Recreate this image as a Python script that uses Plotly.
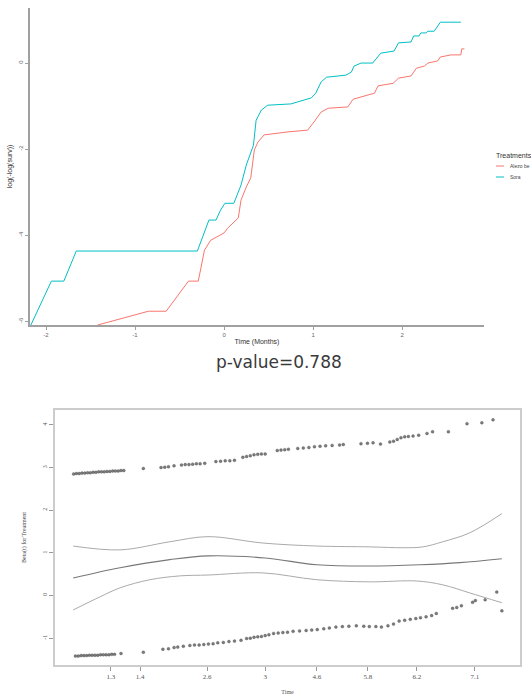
import plotly.graph_objects as go

# ---------------- Top panel: log(-log(surv)) vs log time ----------------
sora_t = [-2.17, -1.94, -1.80, -1.66, -0.30, -0.17, -0.09, -0.04, 0.01, 0.11,
          0.19, 0.25, 0.33, 0.36, 0.42, 0.49, 0.75, 0.87, 0.98, 1.03,
          1.09, 1.15, 1.37, 1.43, 1.46, 1.54, 1.67, 1.76, 1.91, 1.96,
          2.10, 2.13, 2.19, 2.21, 2.27, 2.29, 2.36, 2.43, 2.66]
sora_v = [-6.09, -5.07, -5.07, -4.37, -4.37, -3.65, -3.65, -3.42, -3.26, -3.26,
          -2.84, -2.37, -1.91, -1.33, -1.09, -0.98, -0.95, -0.88, -0.81, -0.70,
          -0.44, -0.33, -0.28, -0.21, -0.07, 0.00, 0.00, 0.23, 0.28, 0.47,
          0.49, 0.63, 0.63, 0.70, 0.70, 0.74, 0.74, 0.95, 0.95]

alezo_t = [-1.42, -0.85, -0.65, -0.48, -0.40, -0.29, -0.22, -0.15, 0.00, 0.04,
           0.16, 0.19, 0.25, 0.30, 0.34, 0.38, 0.45, 0.72, 0.94, 1.01,
           1.09, 1.17, 1.39, 1.45, 1.54, 1.69, 1.73, 1.90, 1.96, 2.10,
           2.16, 2.25, 2.29, 2.40, 2.43, 2.55, 2.66, 2.67, 2.70]
alezo_v = [-6.09, -5.77, -5.77, -5.28, -5.07, -5.07, -4.35, -4.12, -3.95, -3.84,
           -3.60, -3.19, -2.88, -2.67, -2.02, -1.84, -1.67, -1.60, -1.56, -1.37,
           -1.14, -1.05, -1.02, -0.84, -0.79, -0.70, -0.53, -0.47, -0.35, -0.30,
           -0.12, -0.07, 0.00, 0.05, 0.14, 0.19, 0.19, 0.33, 0.33]

top_xticks = [-2, -1, 0, 1, 2]
top_yticks = [0, -2, -4, -6]
legend_names = ["Alezo be", "Sora"]

# ---------------- Bottom panel: Schoenfeld residuals ----------------
bot_tickpos = [0.120, 0.183, 0.327, 0.452, 0.563, 0.673, 0.778, 0.903]
bot_ticklab = ["1.3", "1.4", "2.6", "3", "4.6", "5.8", "6.2", "7.1"]
bot_yticks = [4, 3, 2, 1, 0, -1]

res_hi_x = [0.040, 0.046, 0.052, 0.058, 0.064, 0.070, 0.076, 0.082, 0.088, 0.094,
            0.100, 0.106, 0.112, 0.118, 0.124, 0.130, 0.136, 0.142, 0.148, 0.190,
            0.228, 0.236, 0.244, 0.256, 0.272, 0.280, 0.288, 0.296, 0.304, 0.312,
            0.322, 0.346, 0.356, 0.366, 0.376, 0.386, 0.404, 0.412, 0.420, 0.428,
            0.436, 0.444, 0.452, 0.478, 0.486, 0.494, 0.502, 0.522, 0.534, 0.546,
            0.558, 0.570, 0.582, 0.596, 0.612, 0.620, 0.658, 0.672, 0.684, 0.700,
            0.720, 0.728, 0.736, 0.744, 0.752, 0.760, 0.770, 0.782, 0.800, 0.812,
            0.846, 0.886, 0.918, 0.942]
res_hi_y = [2.85, 2.86, 2.86, 2.87, 2.87, 2.88, 2.88, 2.89, 2.89, 2.90,
            2.90, 2.90, 2.91, 2.91, 2.92, 2.92, 2.92, 2.93, 2.93, 2.98,
            3.00, 3.01, 3.02, 3.04, 3.06, 3.07, 3.07, 3.08, 3.09, 3.09,
            3.10, 3.14, 3.15, 3.16, 3.16, 3.17, 3.24, 3.26, 3.28, 3.30,
            3.31, 3.32, 3.32, 3.40, 3.41, 3.42, 3.43, 3.45, 3.46, 3.47,
            3.49, 3.50, 3.51, 3.52, 3.53, 3.54, 3.56, 3.57, 3.58, 3.55,
            3.60, 3.62, 3.66, 3.70, 3.72, 3.73, 3.74, 3.76, 3.80, 3.84,
            3.84, 4.03, 4.05, 4.12]

res_lo_x = [0.044, 0.050, 0.056, 0.062, 0.068, 0.074, 0.080, 0.086, 0.092, 0.098,
            0.104, 0.110, 0.116, 0.122, 0.128, 0.142, 0.190, 0.232, 0.244, 0.256,
            0.264, 0.276, 0.290, 0.300, 0.310, 0.320, 0.330, 0.340, 0.350, 0.362,
            0.374, 0.386, 0.400, 0.412, 0.420, 0.428, 0.436, 0.444, 0.452, 0.460,
            0.470, 0.480, 0.490, 0.500, 0.512, 0.526, 0.540, 0.552, 0.564, 0.578,
            0.590, 0.604, 0.618, 0.632, 0.648, 0.664, 0.676, 0.690, 0.702, 0.716,
            0.728, 0.740, 0.752, 0.764, 0.776, 0.786, 0.798, 0.810, 0.820, 0.855,
            0.864, 0.874, 0.898, 0.904, 0.925, 0.950, 0.961]
res_lo_y = [-1.42, -1.42, -1.41, -1.41, -1.41, -1.40, -1.40, -1.40, -1.40, -1.39,
            -1.39, -1.39, -1.39, -1.38, -1.38, -1.36, -1.33, -1.26, -1.25, -1.22,
            -1.21, -1.19, -1.17, -1.16, -1.16, -1.15, -1.14, -1.13, -1.11, -1.10,
            -1.08, -1.07, -1.05, -1.01, -1.00, -0.98, -0.97, -0.96, -0.94, -0.92,
            -0.89, -0.88, -0.87, -0.86, -0.84, -0.83, -0.82, -0.81, -0.80, -0.78,
            -0.76, -0.74, -0.73, -0.72, -0.71, -0.72, -0.73, -0.73, -0.74, -0.71,
            -0.67, -0.60, -0.58, -0.56, -0.54, -0.52, -0.50, -0.47, -0.42, -0.30,
            -0.28, -0.24, -0.16, -0.12, -0.10, 0.08, -0.36]

fit_x = [0.039, 0.140, 0.247, 0.329, 0.452, 0.563, 0.677, 0.785, 0.871, 0.961]
fit_y = [0.41, 0.65, 0.84, 0.93, 0.88, 0.72, 0.69, 0.72, 0.77, 0.86]

up_x = [0.039, 0.140, 0.247, 0.329, 0.447, 0.563, 0.677, 0.748, 0.791, 0.834, 0.892, 0.961]
up_y = [1.16, 1.07, 1.26, 1.38, 1.23, 1.16, 1.14, 1.12, 1.14, 1.26, 1.47, 1.92]

lo_x = [0.039, 0.097, 0.140, 0.204, 0.269, 0.329, 0.447, 0.563, 0.677, 0.778, 0.834, 0.892, 0.961]
lo_y = [-0.34, -0.03, 0.18, 0.37, 0.46, 0.48, 0.53, 0.37, 0.32, 0.34, 0.25, 0.06, -0.17]

RED = "#F8766D"
CYAN = "#00BFC4"
FONT = "Liberation Sans"
SERIF = "Liberation Serif"

fig = go.Figure()

fig.add_trace(go.Scatter(x=alezo_t, y=alezo_v, mode="lines", name=legend_names[0],
                         line=dict(color=RED, width=1.0), xaxis="x", yaxis="y"))
fig.add_trace(go.Scatter(x=sora_t, y=sora_v, mode="lines", name=legend_names[1],
                         line=dict(color=CYAN, width=1.0), xaxis="x", yaxis="y"))

mk = dict(symbol="circle", size=3.0, color="rgba(80,80,80,0.75)",
          line=dict(width=0.5, color="rgba(50,50,50,0.5)"))
fig.add_trace(go.Scatter(x=res_hi_x, y=res_hi_y, mode="markers", marker=mk,
                         xaxis="x2", yaxis="y2"))
fig.add_trace(go.Scatter(x=res_lo_x, y=res_lo_y, mode="markers", marker=mk,
                         xaxis="x2", yaxis="y2"))
fig.add_trace(go.Scatter(x=fit_x, y=fit_y, mode="lines",
                         line=dict(color="#777", width=1.1, shape="spline"),
                         xaxis="x2", yaxis="y2"))
fig.add_trace(go.Scatter(x=up_x, y=up_y, mode="lines",
                         line=dict(color="#aaa", width=1.0, shape="spline"),
                         xaxis="x2", yaxis="y2"))
fig.add_trace(go.Scatter(x=lo_x, y=lo_y, mode="lines",
                         line=dict(color="#aaa", width=1.0, shape="spline"),
                         xaxis="x2", yaxis="y2"))

W, H = 531, 698

# manual compact legend (ggplot style)
shapes = []
annotations = [
    dict(text="Treatments", x=494 / W, y=1 - 155 / H, xref="paper", yref="paper",
         xanchor="left", yanchor="middle", showarrow=False,
         font=dict(size=7, color="#333", family=FONT)),
]
for i, (nm, col) in enumerate(zip(legend_names, [RED, CYAN])):
    yy = 1 - (166 + 11 * i) / H
    shapes.append(dict(type="line", xref="paper", yref="paper",
                       x0=496 / W, x1=504 / W, y0=yy, y1=yy,
                       line=dict(color=col, width=1)))
    annotations.append(dict(text=nm, x=508 / W, y=yy, xref="paper", yref="paper",
                            xanchor="left", yanchor="middle", showarrow=False,
                            font=dict(size=5, color="#444", family=FONT)))

annotations.append(dict(text="p-value=0.788", x=279 / W, y=1 - 362 / H,
                        xref="paper", yref="paper", showarrow=False,
                        font=dict(size=17, color="#3a3a3a", family="DejaVu Sans")))

fig.update_layout(
    width=W, height=H,
    margin=dict(l=0, r=0, t=0, b=0),
    paper_bgcolor="white", plot_bgcolor="white",
    font=dict(family=FONT, color="#444"),
    showlegend=False,
    shapes=shapes,
    annotations=annotations,
    xaxis=dict(domain=[30 / W, 484 / W], range=[-2.18, 2.92],
               tickvals=top_xticks, ticktext=[str(v) for v in top_xticks],
               showgrid=False, zeroline=False, showline=True, linecolor="#a0a0a0",
               linewidth=2, ticks="outside", ticklen=3, tickcolor="#a0a0a0",
               tickfont=dict(size=6, color="#666"),
               title=dict(text="Time (Months)", font=dict(size=7, color="#333"), standoff=2),
               anchor="y"),
    yaxis=dict(domain=[1 - 325 / H, 1 - 8 / H], range=[-6.09, 1.28],
               tickvals=top_yticks, ticktext=[str(v) for v in top_yticks],
               showgrid=False, zeroline=False, showline=True, linecolor="#a0a0a0",
               linewidth=2, ticks="outside", ticklen=3, tickcolor="#a0a0a0",
               tickangle=-90, tickfont=dict(size=6, color="#666"),
               title=dict(text="log(-log(surv))", font=dict(size=7, color="#333"), standoff=4),
               anchor="x"),
    xaxis2=dict(domain=[55 / W, 520 / W], range=[0, 1],
                tickvals=bot_tickpos, ticktext=bot_ticklab,
                showgrid=False, zeroline=False, showline=True, mirror=True,
                linecolor="#cccccc", linewidth=2, ticks="outside", ticklen=4,
                tickcolor="#999", tickfont=dict(size=7, color="#555", family=SERIF),
                title=dict(text="Time", font=dict(size=6, color="#555", family=SERIF), standoff=9),
                anchor="y2"),
    yaxis2=dict(domain=[1 - 665 / H, 1 - 410 / H], range=[-1.63, 4.35],
                tickvals=bot_yticks, ticktext=[str(v) for v in bot_yticks],
                showgrid=False, zeroline=False, showline=True, mirror=True,
                linecolor="#cccccc", linewidth=2, ticks="outside", ticklen=4,
                tickcolor="#999", tickangle=-90,
                tickfont=dict(size=6, color="#555", family=SERIF),
                title=dict(text="Beta(t) for Treatment", font=dict(size=6, color="#444", family=SERIF), standoff=14),
                anchor="x2"),
)

fig.write_html("out.html", config={"displayModeBar": False},
               post_script="document.body.style.margin='0';")
